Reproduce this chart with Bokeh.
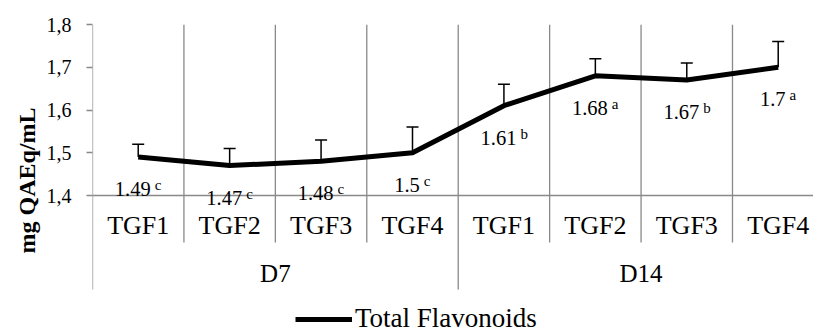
from bokeh.plotting import figure
from bokeh.models import (Range1d, FixedTicker, Whisker, ColumnDataSource,
                          Legend, LegendItem, TeeHead)
from bokeh.core.properties import value
from bokeh.embed import file_html
from bokeh.resources import INLINE

# ---- data ----
days = ["D7", "D14"]
treatments = ["TGF1", "TGF2", "TGF3", "TGF4"]
values = [1.49, 1.47, 1.48, 1.50, 1.61, 1.68, 1.67, 1.70]
errors = [0.03, 0.04, 0.05, 0.06, 0.05, 0.04, 0.04, 0.06]
letters = ["c", "c", "c", "c", "b", "a", "b", "a"]
value_labels = ["1.49", "1.47", "1.48", "1.5", "1.61", "1.68", "1.67", "1.7"]
y_ticks = [1.4, 1.5, 1.6, 1.7, 1.8]
y_tick_labels = ["1,4", "1,5", "1,6", "1,7", "1,8"]
series_name = "Total Flavonoids"
y_title = "mg QAEq/mL"

# ---- style ----
FONT = "'Liberation Serif', 'Times New Roman', serif"
GRAY = "#898989"
Y_MIN, Y_MAX = y_ticks[0], y_ticks[-1]
Y_SEP = 1.18      # lower end of the group separators
Y_BOTTOM = 1.0702 # bottom of frame (room for labels and legend)
Y_MID = (Y_MIN + Y_SEP) / 2

n_t = len(treatments)
n = len(days) * n_t
xs = [i + 0.5 for i in range(n)]
cat_labels = [t for d in days for t in treatments]
day_x = [(k * n_t + (k + 1) * n_t) / 2 for k in range(len(days))]

p = figure(frame_width=721, frame_height=312, output_backend="svg",
           toolbar_location=None, x_axis_location=None,
           x_range=Range1d(0, 7.886), y_range=Range1d(Y_BOTTOM, Y_MAX),
           min_border_left=92, min_border_right=0, min_border_top=24,
           min_border_bottom=0)
p.outline_line_color = None
p.xgrid.visible = False
p.ygrid.visible = False
p.background_fill_color = "white"
p.border_fill_color = "white"

# y axis (its line is drawn separately so it stops at the separators)
ax = p.yaxis[0]
ax.ticker = FixedTicker(ticks=y_ticks)
ax.major_label_overrides = dict(zip(y_ticks, y_tick_labels))
ax.axis_line_color = None
ax.major_tick_line_color = GRAY
ax.major_tick_line_width = 1.3
ax.major_tick_out = 6
ax.major_tick_in = 0
ax.minor_tick_line_color = None
ax.major_label_text_font = FONT
ax.major_label_text_font_size = "20px"
ax.major_label_text_color = "black"
ax.major_label_standoff = 15
ax.axis_label = y_title
ax.axis_label_text_font = FONT
ax.axis_label_text_font_style = "bold"
ax.axis_label_text_font_size = "24px"
ax.axis_label_text_color = "black"
ax.axis_label_standoff = 4

# separators / gridlines / axis lines
inner = [i for i in range(1, n) if i % n_t != 0]
groups = [i for i in range(0, n + 1, n_t)]
p.segment(x0=inner, x1=inner, y0=Y_MAX, y1=Y_MID, line_color=GRAY, line_width=1.3)
p.segment(x0=groups, x1=groups, y0=Y_MAX, y1=Y_SEP, line_color=GRAY, line_width=1.3)
p.segment(x0=[0], x1=[n], y0=[Y_MIN], y1=[Y_MIN], line_color=GRAY, line_width=1.3)

# category labels
p.text(x=xs, y=[Y_MIN] * n, text=cat_labels, text_font=value(FONT),
       text_font_size="26px", text_align="center", text_baseline="middle",
       y_offset=30, text_color="black")
p.text(x=day_x, y=[Y_MIN] * len(days), text=days, text_font=value(FONT),
       text_font_size="25px", text_align="center", text_baseline="middle",
       y_offset=78, text_color="black")

# error bars
src = ColumnDataSource(dict(x=xs, lower=values,
                            upper=[v + e for v, e in zip(values, errors)]))
p.add_layout(Whisker(source=src, base="x", upper="upper", lower="lower",
                     dimension="height", line_color="black", line_width=1.5,
                     upper_head=TeeHead(size=12, line_color="black", line_width=1.5),
                     lower_head=None))

# line
line_r = p.line(xs, values, line_color="black", line_width=5, line_join="round")

# data labels with superscript letters
FS, SFS, GAP = 20.5, 15, 4
main_w = [FS * sum(0.5 if ch.isdigit() else 0.25 for ch in s) for s in value_labels]
let_w = SFS * 0.46
tot = [w + GAP + let_w for w in main_w]
main_off = [-t / 2 + w / 2 for t, w in zip(tot, main_w)]
let_off = [-t / 2 + w + GAP for t, w in zip(tot, main_w)]
lab_src = ColumnDataSource(dict(x=xs, y=values, t=value_labels, l=letters,
                                mo=main_off, lo=let_off))
p.text(x="x", y="y", text="t", x_offset="mo", y_offset=32, source=lab_src,
       text_font=value(FONT), text_font_size=f"{FS}px", text_align="center",
       text_baseline="middle", text_color="black")
p.text(x="x", y="y", text="l", x_offset="lo", y_offset=28, source=lab_src,
       text_font=value(FONT), text_font_size=f"{SFS}px", text_align="left",
       text_baseline="middle", text_color="black")

legend = Legend(items=[LegendItem(label=series_name, renderers=[line_r])],
                location=(203, 2), orientation="horizontal",
                glyph_width=57, glyph_height=20, label_standoff=3,
                padding=0, margin=0, border_line_color=None,
                background_fill_alpha=0,
                label_text_font=FONT, label_text_font_size="27px",
                label_text_color="black")
p.add_layout(legend)

open("out.html", "w").write(file_html(p, INLINE))
